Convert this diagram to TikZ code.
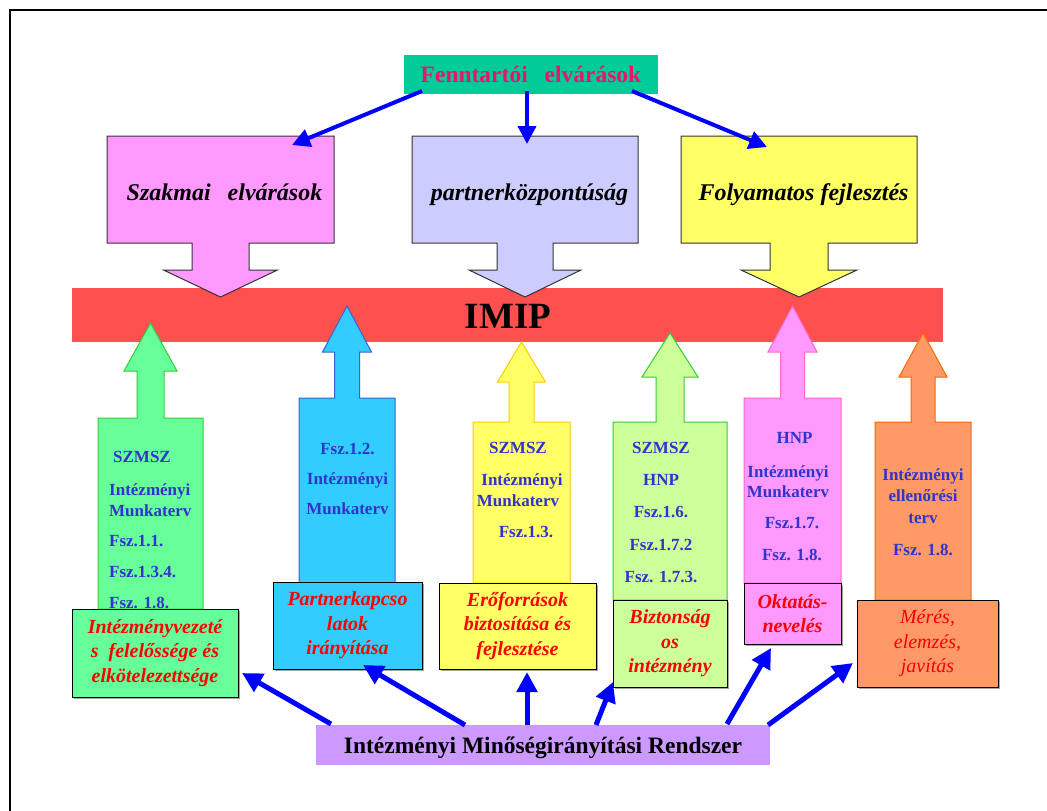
\documentclass[tikz,border=0pt]{standalone}
\usepackage{fontspec}
\setmainfont{Liberation Serif}
\usetikzlibrary{arrows.meta}
\definecolor{tealc}{HTML}{00CC99}
\definecolor{magtxt}{HTML}{E6176A}
\definecolor{pinkc}{HTML}{FF99FF}
\definecolor{lavc}{HTML}{CCCCFF}
\definecolor{yelc}{HTML}{FFFF66}
\definecolor{redbar}{HTML}{FF5050}
\definecolor{greenc}{HTML}{66FF99}
\definecolor{cyanc}{HTML}{33CCFF}
\definecolor{lgreenc}{HTML}{CCFF99}
\definecolor{orangec}{HTML}{FF9966}
\definecolor{purplec}{HTML}{CC99FF}
\definecolor{txtblue}{HTML}{3333CC}
\definecolor{txtred}{HTML}{FF0000}
\definecolor{arrblue}{HTML}{0000FF}
\definecolor{greenb}{HTML}{33CC33}
\definecolor{cyanb}{HTML}{3366CC}
\definecolor{yelb}{HTML}{FFCC00}
\definecolor{pinkb}{HTML}{FF66CC}
\definecolor{orangeb}{HTML}{FF6600}
% up block arrow: style, cx, tip y, head half width, head base y, shaft half width, box top, box half width, box bottom
\newcommand{\upblk}[9]{\filldraw[#1] (#2,#3) -- ({#2+#4},#5) -- ({#2+#6},#5) -- ({#2+#6},#7) -- ({#2+#8},#7) -- ({#2+#8},#9) -- ({#2-#8},#9) -- ({#2-#8},#7) -- ({#2-#6},#7) -- ({#2-#6},#5) -- ({#2-#4},#5) -- cycle;}
% down block arrow: style, cx, box half width, box top, box bottom, shaft half width, head base y, head half width, tip y
\newcommand{\dnblk}[9]{\filldraw[#1] ({#2-#3},#4) -- ({#2+#3},#4) -- ({#2+#3},#5) -- ({#2+#6},#5) -- ({#2+#6},#7) -- ({#2+#8},#7) -- (#2,#9) -- ({#2-#8},#7) -- ({#2-#6},#7) -- ({#2-#6},#5) -- ({#2-#3},#5) -- cycle;}
\tikzset{
  coltxt/.style={text=txtblue, font=\fontsize{17}{20}\selectfont\bfseries, inner sep=0pt, anchor=base},
  coltxtw/.style={coltxt, anchor=base west},
  lblbox/.style={draw=black, line width=1pt, inner sep=0pt, align=center, text=txtred,
    font=\fontsize{20}{24.5}\selectfont\bfseries\itshape},
  toptxt/.style={font=\fontsize{24}{28}\selectfont\bfseries\itshape, text=black, inner sep=0pt, anchor=base},
  conn/.style={draw=arrblue, line width=4pt, -{Triangle[length=18pt,width=18pt]}},
  connb/.style={draw=arrblue, line width=5pt, -{Triangle[length=20pt,width=20pt]}},
  shad/.style={fill=black!35}
}
\begin{document}
\begin{tikzpicture}[x=1pt,y=-1pt]
\useasboundingbox (0,0) rectangle (1047,811);
% frame
\draw[line width=2pt] (10,812) -- (10,10) -- (1048,10);

% red bar
\node[fill=redbar, minimum width=871pt, minimum height=54pt, inner sep=0pt] (imip) at (507.5,315) {};

% top down block arrows
\dnblk{fill=pinkc, draw=black!80, line width=1pt}{220.5}{113.5}{136}{243}{28.5}{270}{57}{297}
\dnblk{fill=lavc, draw=black!80, line width=1pt}{525}{113}{136}{243}{28}{270}{56}{297}
\dnblk{fill=yelc, draw=black!80, line width=1pt}{799}{118}{136}{243}{29}{270}{58}{297}

\node[font=\fontsize{37}{40}\selectfont\bfseries, inner sep=0pt, anchor=base] (imiptxt) at (508,328) {IMIP};

% up block arrows (columns)
\upblk{fill=greenc, draw=greenb, line width=1pt}{150.5}{323}{26.5}{371}{13.5}{418}{52.5}{609}
\upblk{fill=cyanc, draw=cyanb, line width=1pt}{347}{306}{24.5}{352}{12.5}{398}{48}{583}
\upblk{fill=yelc, draw=yelb, line width=1pt}{521.5}{342}{24}{382}{12.5}{422}{48.5}{583}
\upblk{fill=lgreenc, draw=greenb, line width=1pt}{670}{333}{28}{377}{14}{422}{57}{600}
\upblk{fill=pinkc, draw=pinkb, line width=1pt}{792.5}{306}{24.5}{352}{12}{398}{48.5}{583}
\upblk{fill=orangec, draw=orangeb, line width=1pt}{923}{333}{24}{377}{12}{422}{48}{600}

% Fenntartói
\node[fill=tealc, minimum width=254pt, minimum height=39pt, inner sep=0pt, text=magtxt,
  font=\fontsize{23.5}{26}\selectfont\bfseries, text height=16pt, text depth=0pt] (fenn) at (531,74.5)
  {Fenntartói\hspace{11pt} elvárások};

% top texts
\node[toptxt] (szak) at (224.5,200) {Szakmai\hspace{11pt} elvárások};
\node[toptxt] (partn) at (529.5,200) {partnerközpontúság};
\node[toptxt] (folyam) at (803.5,200) {Folyamatos fejlesztés};

% column texts
\node[coltxtw] (g1) at (113,462) {SZMSZ};
\node[coltxtw] (g2) at (109,495) {Intézményi};
\node[coltxtw] (g3) at (109,516) {Munkaterv};
\node[coltxtw] (g4) at (109,546) {Fsz.1.1.};
\node[coltxtw] (g5) at (109,577) {Fsz.1.3.4.};
\node[coltxtw] (g6) at (109,608) {Fsz. 1.8.};

\node[coltxt] (b1) at (347.5,454) {Fsz.1.2.};
\node[coltxt] (b2) at (347.5,484) {Intézményi};
\node[coltxt] (b3) at (347.5,514) {Munkaterv};

\node[coltxt] (y1) at (518,453) {SZMSZ};
\node[coltxt] (y2) at (522,485) {Intézményi};
\node[coltxt] (y3) at (518,506) {Munkaterv};
\node[coltxt] (y4) at (526,537) {Fsz.1.3.};

\node[coltxt] (l1) at (661,453) {SZMSZ};
\node[coltxt] (l2) at (661,485) {HNP};
\node[coltxt] (l3) at (661,517) {Fsz.1.6.};
\node[coltxt] (l4) at (661,550) {Fsz.1.7.2};
\node[coltxt] (l5) at (661,582) {Fsz. 1.7.3.};

\node[coltxt] (p1) at (794.5,443) {HNP};
\node[coltxt] (p2) at (788,477) {Intézményi};
\node[coltxt] (p3) at (788,497) {Munkaterv};
\node[coltxt] (p4) at (792,528) {Fsz.1.7.};
\node[coltxt] (p5) at (792,560) {Fsz. 1.8.};

\node[coltxt] (o1) at (923,480) {Intézményi};
\node[coltxt] (o2) at (923,501) {ellenőrési};
\node[coltxt] (o3) at (923,523) {terv};
\node[coltxt] (o4) at (923,555) {Fsz. 1.8.};

% label boxes (with light shadow)
\fill[shad] (74,611) rectangle (240,699);
\node[lblbox, fill=greenc, minimum width=166pt, minimum height=88pt] (lg) at (155,653)
  {Intézményvezeté\\s\ \ felelőssége és\\elkötelezettsége};
\fill[shad] (275,584) rectangle (424,671);
\node[lblbox, fill=cyanc, minimum width=149pt, minimum height=87pt] (lb) at (347.5,625.5)
  {Partnerkapcso\\latok\\irányítása};
\fill[shad] (441,585) rectangle (598,671);
\node[lblbox, fill=yelc, minimum width=157pt, minimum height=86pt] (ly) at (517.5,626)
  {Erőforrások\\biztosítása és\\fejlesztése};
\fill[shad] (615,602) rectangle (729,689);
\node[lblbox, fill=lgreenc, minimum width=114pt, minimum height=87pt] (ll) at (670,643.5)
  {Biztonság\\os\\intézmény};
\fill[shad] (746,585) rectangle (843,646);
\node[lblbox, fill=pinkc, minimum width=97pt, minimum height=61pt] (lp) at (792.5,613.5)
  {Oktatás-\\nevelés};
\fill[shad] (859,602) rectangle (1000,689);
\node[lblbox, fill=orangec, minimum width=141pt, minimum height=87pt,
  font=\fontsize{20}{24.5}\selectfont\itshape] (lo) at (927.5,643.5)
  {Mérés,\\elemzés,\\javítás};

% bottom box
\node[fill=purplec, minimum width=454pt, minimum height=40pt, inner sep=0pt,
  font=\fontsize{23.5}{26}\selectfont\bfseries, text height=17pt, text depth=0pt] (imir) at (543,745)
  {Intézményi Minőségirányítási Rendszer};

% connector endpoints
\coordinate (fs1) at (422,91);
\coordinate (fs2) at (527,91);
\coordinate (fs3) at (632,91);
\coordinate (ft1) at (292,145);
\coordinate (ft2) at (527,144);
\coordinate (ft3) at (767,147);

\coordinate (ms1) at (331,724);
\coordinate (ms2) at (465,725);
\coordinate (ms3) at (527,725);
\coordinate (ms4) at (596,725);
\coordinate (ms5) at (727,724);
\coordinate (ms6) at (768,725);
\coordinate (mt1) at (242,673);
\coordinate (mt2) at (363,665);
\coordinate (mt3) at (527,672);
\coordinate (mt4) at (613,682);
\coordinate (mt5) at (771,648);
\coordinate (mt6) at (853,663);

\draw[conn] (fs1) -- (ft1);
\draw[conn] (fs2) -- (ft2);
\draw[conn] (fs3) -- (ft3);

\draw[connb] (ms1) -- (mt1);
\draw[connb] (ms2) -- (mt2);
\draw[connb] (ms3) -- (mt3);
\draw[connb] (ms4) -- (mt4);
\draw[connb] (ms5) -- (mt5);
\draw[connb] (ms6) -- (mt6);
\end{tikzpicture}
\end{document}
